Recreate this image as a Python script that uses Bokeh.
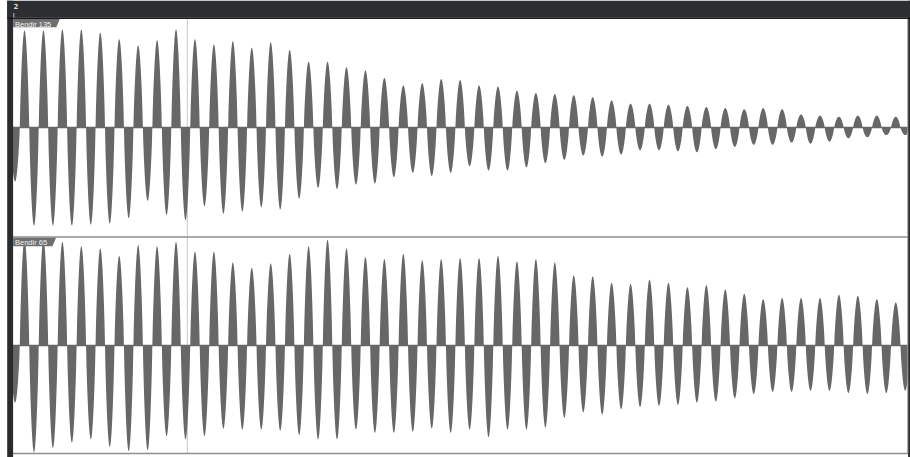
import numpy as np
from bokeh.plotting import figure
from bokeh.models import Range1d
from bokeh.embed import file_html
from bokeh.resources import INLINE
from bokeh.core.properties import value

# ---------------- data (peak level of each half-cycle, fraction of full scale) ----------------
marker_label = "2"
track_names = ["Bendir 135", "Bendir 65"]

# upward half-cycles (47 cycles)
top_pos = [0.90, 0.90, 0.91, 0.91, 0.88, 0.82, 0.76, 0.81, 0.91, 0.82, 0.77, 0.80, 0.74, 0.79, 0.72, 0.61,
           0.61, 0.56, 0.53, 0.46, 0.39, 0.41, 0.45, 0.44, 0.39, 0.38, 0.34, 0.32, 0.31, 0.30, 0.28,
           0.25, 0.22, 0.22, 0.21, 0.20, 0.19, 0.18, 0.17, 0.18, 0.17, 0.12, 0.11, 0.10, 0.11, 0.11, 0.10]
# downward half-cycles (48, the first one precedes the first upward one)
top_neg = [0.50, 0.91, 0.91, 0.91, 0.90, 0.89, 0.84, 0.68, 0.81, 0.86, 0.73, 0.80, 0.78, 0.74, 0.76, 0.66,
           0.56, 0.57, 0.53, 0.52, 0.46, 0.42, 0.45, 0.42, 0.36, 0.40, 0.40, 0.37, 0.33, 0.30, 0.26, 0.27,
           0.25, 0.21, 0.21, 0.22, 0.23, 0.20, 0.18, 0.16, 0.16, 0.14, 0.15, 0.13, 0.10, 0.09, 0.07, 0.07]

bot_pos = [0.98, 0.98, 0.96, 0.92, 0.90, 0.83, 0.93, 0.92, 0.96, 0.87, 0.87, 0.77, 0.72, 0.76, 0.85, 0.92,
           0.98, 0.90, 0.82, 0.80, 0.85, 0.79, 0.80,
           0.81, 0.81, 0.83, 0.78, 0.80, 0.77, 0.65, 0.64, 0.58, 0.57, 0.61, 0.58, 0.54, 0.56, 0.52, 0.48,
           0.43, 0.44, 0.44, 0.44, 0.47, 0.46, 0.43, 0.40]
bot_neg = [0.53, 0.99, 0.95, 0.90, 0.87, 0.94, 0.98, 0.97, 0.84, 0.87, 0.84, 0.77, 0.78, 0.78, 0.79, 0.83,
           0.87, 0.87, 0.78, 0.81, 0.81, 0.80, 0.77, 0.81,
           0.78, 0.85, 0.78, 0.78, 0.76, 0.67, 0.62, 0.64, 0.59, 0.57, 0.56, 0.55, 0.53, 0.52, 0.49, 0.45,
           0.43, 0.43, 0.42, 0.42, 0.44, 0.45, 0.44, 0.42]

cursor_cycle = 8.85  # playhead position, in cycles

# ---------------- layout ----------------
W, H = 910, 457
OFF = 0
X0 = 19.27     # screen x of the first upward zero crossing
T = 18.94      # screen px per cycle
FULL = 108     # px for full scale
bases = [127, 345]
SHAPE = 0.8    # lobe fullness

WAVE = "#676767"


def cx(px):
    return (px - X0) / T


p = figure(width=W, height=H, output_backend="svg", toolbar_location=None,
           x_range=Range1d(cx(OFF), cx(OFF + W)), y_range=Range1d(OFF + H, OFF),
           x_axis_location=None, y_axis_location=None, min_border=0,
           background_fill_color="white", border_fill_color="white")
p.grid.visible = False
p.outline_line_color = None

# playhead
p.segment(x0=[cursor_cycle], x1=[cursor_cycle], y0=[18], y1=[453], line_color="#d2d2d2", line_width=1.2)


def wave(pos, neg, base):
    xs, ys = [], []
    ph = np.linspace(0, np.pi, 22)
    n = len(pos)
    lobes = [(-0.5, -neg[0])]
    for k in range(n):
        lobes.append((k, pos[k]))
        lobes.append((k + 0.5, -neg[k + 1]))
    for start, a in lobes:
        xs.extend(start + ph / (2 * np.pi))
        ys.extend(base - FULL * a * np.sin(ph) ** SHAPE)
    xs = np.array(xs)
    ys = np.array(ys)
    p.varea(x=xs, y1=np.full_like(ys, base), y2=ys, fill_color=WAVE)
    p.line(x=[xs[0], xs[-1] + 1], y=[base, base], line_color=WAVE, line_width=1.5)


wave(top_pos, top_neg, bases[0])
wave(bot_pos, bot_neg, bases[1])

# track separators
p.segment(x0=[cx(12)], x1=[cx(912)], y0=[236.5], y1=[236.5], line_color="#8e8e8e", line_width=1.5)
p.segment(x0=[cx(12)], x1=[cx(912)], y0=[453], y1=[453], line_color="#8e8e8e", line_width=1.5)

# left dark strip
p.quad(left=[cx(6.7)], right=[cx(12.6)], top=[0], bottom=[470], fill_color="#2b2b2d", line_color=None)
# right dark strip
p.quad(left=[cx(907.6)], right=[cx(912)], top=[0], bottom=[470], fill_color="#2b2b2d", line_color=None)
p.segment(x0=[cx(907.2)], x1=[cx(907.2)], y0=[18], y1=[453], line_color="#9a9a9a", line_width=1)
# top bar
p.quad(left=[cx(6.7)], right=[cx(912)], top=[0], bottom=[16.8], fill_color="#2c2e32", line_color=None)
p.quad(left=[cx(6.7)], right=[cx(912)], top=[16.8], bottom=[18.4], fill_color="#18191b", line_color=None)
p.segment(x0=[cx(13.3)], x1=[cx(13.3)], y0=[12.5], y1=[17], line_color="#bdbdbd", line_width=1)
p.text(x=[cx(13)], y=[2.4], text=[marker_label], text_color="#d8d8d8", text_font=value("DejaVu Sans"),
       text_font_size="7px", text_font_style="bold", text_baseline="top")

# name tabs
for name, top, right in zip(track_names, [18.4, 237.3], [59.3, 55.5]):
    p.patch(x=[cx(12.6), cx(right), cx(right - 3.5), cx(12.6)], y=[top, top, top + 8.4, top + 8.4],
            fill_color="#6f6f6f", line_color=None)
    p.text(x=[cx(14.5)], y=[top + 0.6], text=[name], text_color="#f2f2f2", text_font=value("Liberation Sans"),
           text_font_size="7.5px", text_baseline="top")

open("out.html", "w").write(file_html(p, INLINE))
